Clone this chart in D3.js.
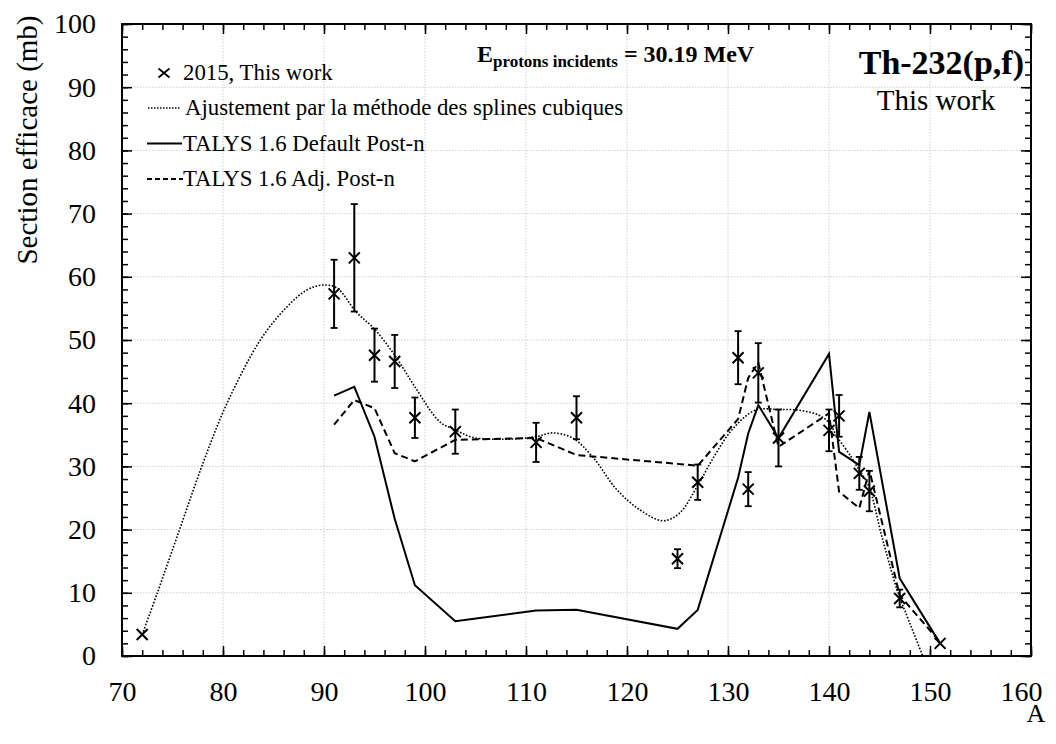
<!DOCTYPE html>
<html>
<head>
<meta charset="utf-8">
<script src="https://cdn.jsdelivr.net/npm/d3@7"></script>
<style>
  body { margin: 0; background: #fff; }
  svg { display: block; }
  text { font-family: "Liberation Serif", "Times New Roman", serif; fill: #000; }
</style>
</head>
<body>
<svg id="chart" width="1056" height="744"></svg>
<script>
// Measured fission-product cross sections, Th-232(p,f) at 30.19 MeV
const expMass  = [72, 91, 93, 95, 97, 99, 103, 111, 115, 125, 127, 131, 132, 133, 135, 140, 141, 143, 144, 147, 151];
const expSigma = [3.4, 57.3, 63.0, 47.6, 46.6, 37.7, 35.5, 33.8, 37.7, 15.4, 27.5, 47.2, 26.4, 44.8, 34.5, 35.7, 38.0, 28.9, 26.1, 9.1, 2.0];
const expError = [0, 5.4, 8.5, 4.2, 4.2, 3.2, 3.5, 3.1, 3.4, 1.5, 2.8, 4.2, 2.7, 4.7, 4.5, 3.3, 3.3, 2.6, 3.2, 1.4, 0];

// TALYS 1.6 calculations (post-neutron emission)
const talysMass    = [91, 93, 95, 97, 99, 103, 111, 115, 125, 127, 131, 132, 133, 135, 140, 141, 143, 144, 147, 151];
const talysDefault = [41.2, 42.6, 34.7, 21.7, 11.2, 5.5, 7.2, 7.3, 4.3, 7.3, 28.2, 35.2, 39.7, 34.5, 47.8, 32.3, 30.2, 38.6, 12.3, 2.0];
const talysAdj     = [36.6, 40.5, 39.2, 32.1, 30.8, 34.2, 34.5, 31.8, 30.4, 30.1, 37.5, 44.0, 46.4, 33.1, 38.4, 26.0, 23.4, 29.4, 9.6, 2.2];

// Cubic spline fit of the measured yields
const splineMass  = [72, 73.5, 75.7, 77.9, 80.4, 83.7, 86.3, 88.3, 89.9, 91.3, 93.2, 94.9, 97, 99, 101.5, 103, 104.7, 108, 111, 112.6, 114.6, 116.6, 119, 121.3, 123.6, 125.2, 126.9, 128.6, 130.4, 132.7, 135, 137, 139, 140, 140.8, 142.2, 142.8, 143.9, 145.3, 146.8, 148, 149.2, 149.7];
const splineSigma = [3.4, 10, 20, 30, 40, 50, 55.2, 57.9, 58.7, 58.2, 54.4, 51.9, 47.6, 42.6, 37.0, 35.8, 34.6, 34.3, 34.7, 35.3, 34.5, 31.5, 26.3, 23.1, 21.4, 22.6, 26.7, 31.5, 35.8, 38.9, 39.0, 38.9, 38.1, 36.9, 34.7, 31.5, 29.9, 27.0, 18.5, 10.2, 5.2, 0.3, -1.8];

const xTicks = [70, 80, 90, 100, 110, 120, 130, 140, 150, 160];
const yTicks = [0, 10, 20, 30, 40, 50, 60, 70, 80, 90, 100];

const legendLabels = [
  "2015, This work",
  "Ajustement par la méthode des splines cubiques",
  "TALYS 1.6 Default Post-n",
  "TALYS 1.6 Adj. Post-n"
];

const svg = d3.select("#chart");
const pL = 122, pR = 1031, pT = 24, pB = 656;

const x = d3.scaleLinear().domain([70, 160]).range([pL, pR]);
const y = d3.scaleLinear().domain([0, 100]).range([pB, pT]);

const minorX = d3.range(70, 160.1, 2);
const minorY = d3.range(0, 100.1, 2);

// grid
const grid = svg.append("g").attr("stroke", "#cfcfcf").attr("stroke-width", 1).attr("stroke-dasharray", "1.5,1.5");
grid.selectAll("line.gx").data(xTicks.slice(1, -1)).join("line")
  .attr("x1", d => x(d)).attr("x2", d => x(d)).attr("y1", pT).attr("y2", pB);
grid.selectAll("line.gy").data(yTicks.slice(1, -1)).join("line")
  .attr("y1", d => y(d)).attr("y2", d => y(d)).attr("x1", pL).attr("x2", pR);

// axes: inward ticks on all four sides
function styleAxis(g) {
  g.attr("font-family", null);
  g.selectAll(".tick line").attr("stroke", "#000").attr("stroke-width", 1.5);
  g.selectAll(".domain").remove();
  g.selectAll("text").style("font-family", "'Liberation Serif', serif").attr("fill", "#000");
}

svg.append("g").attr("transform", `translate(0,${pB})`)
  .call(d3.axisBottom(x).tickValues(minorX).tickSize(-6).tickFormat(""))
  .call(styleAxis);
const xLab = svg.append("g").attr("transform", `translate(0,${pB})`)
  .call(d3.axisBottom(x).tickValues(xTicks).tickSize(-10).tickPadding(25).tickFormat(d3.format("d")))
  .call(styleAxis);
xLab.selectAll("text").style("font-size", "28px")
  .attr("dx", d => d === 160 ? -10 : 0);

svg.append("g").attr("transform", `translate(0,${pT})`)
  .call(d3.axisTop(x).tickValues(minorX).tickSize(-6).tickFormat(""))
  .call(styleAxis);
svg.append("g").attr("transform", `translate(0,${pT})`)
  .call(d3.axisTop(x).tickValues(xTicks).tickSize(-10).tickFormat(""))
  .call(styleAxis);

svg.append("g").attr("transform", `translate(${pL},0)`)
  .call(d3.axisLeft(y).tickValues(minorY).tickSize(-6).tickFormat(""))
  .call(styleAxis);
svg.append("g").attr("transform", `translate(${pL},0)`)
  .call(d3.axisLeft(y).tickValues(yTicks).tickSize(-10).tickPadding(26).tickFormat(d3.format("d")))
  .call(styleAxis)
  .selectAll("text").style("font-size", "28px");

svg.append("g").attr("transform", `translate(${pR},0)`)
  .call(d3.axisRight(y).tickValues(minorY).tickSize(-6).tickFormat(""))
  .call(styleAxis);
svg.append("g").attr("transform", `translate(${pR},0)`)
  .call(d3.axisRight(y).tickValues(yTicks).tickSize(-10).tickFormat(""))
  .call(styleAxis);

// frame
svg.append("rect").attr("x", pL).attr("y", pT).attr("width", pR - pL).attr("height", pB - pT)
  .attr("fill", "none").attr("stroke", "#000").attr("stroke-width", 2);

// axis titles
svg.append("text").attr("transform", "translate(37,140) rotate(-90)")
  .attr("text-anchor", "middle").style("font-size", "29px").text("Section efficace (mb)");
svg.append("text").attr("x", 1036).attr("y", 722).attr("text-anchor", "middle")
  .style("font-size", "26px").text("A");

// clip for the curves
svg.append("clipPath").attr("id", "plotClip").append("rect")
  .attr("x", pL).attr("y", pT).attr("width", pR - pL).attr("height", pB - pT);

const plot = svg.append("g").attr("clip-path", "url(#plotClip)");

const splineLine = d3.line().x(d => x(d[0])).y(d => y(d[1])).curve(d3.curveCatmullRom.alpha(0.5));
plot.append("path")
  .datum(splineMass.map((m, i) => [m, splineSigma[i]]))
  .attr("d", splineLine)
  .attr("fill", "none").attr("stroke", "#000").attr("stroke-width", 1.6).attr("stroke-dasharray", "1.6,1.7");

const polyLine = d3.line().x(d => x(d[0])).y(d => y(d[1]));
plot.append("path")
  .datum(talysMass.map((m, i) => [m, talysDefault[i]]))
  .attr("d", polyLine)
  .attr("fill", "none").attr("stroke", "#000").attr("stroke-width", 2).attr("stroke-linejoin", "miter");
plot.append("path")
  .datum(talysMass.map((m, i) => [m, talysAdj[i]]))
  .attr("d", polyLine)
  .attr("fill", "none").attr("stroke", "#000").attr("stroke-width", 2).attr("stroke-dasharray", "7,4");

// measured points with error bars
const pts = expMass.map((m, i) => ({ m, v: expSigma[i], e: expError[i] }));
const pg = svg.append("g").attr("stroke", "#000").attr("fill", "none");
const withErr = pts.filter(d => d.e > 0);
pg.selectAll("line.bar").data(withErr).join("line")
  .attr("x1", d => x(d.m)).attr("x2", d => x(d.m))
  .attr("y1", d => y(d.v + d.e)).attr("y2", d => y(d.v - d.e))
  .attr("stroke-width", 2);
pg.selectAll("line.capTop").data(withErr).join("line")
  .attr("x1", d => x(d.m) - 3.5).attr("x2", d => x(d.m) + 3.5)
  .attr("y1", d => y(d.v + d.e)).attr("y2", d => y(d.v + d.e))
  .attr("stroke-width", 1.8);
pg.selectAll("line.capBot").data(withErr).join("line")
  .attr("x1", d => x(d.m) - 3.5).attr("x2", d => x(d.m) + 3.5)
  .attr("y1", d => y(d.v - d.e)).attr("y2", d => y(d.v - d.e))
  .attr("stroke-width", 1.8);

const cross = (w, h) => `M${-w},${-h}L${w},${h}M${-w},${h}L${w},${-h}`;
pg.selectAll("path.mark").data(pts).join("path")
  .attr("transform", d => `translate(${x(d.m)},${y(d.v)})`)
  .attr("d", cross(5.5, 5.5)).attr("stroke-width", 2);

// legend
const lg = svg.append("g");
const rowY = [73, 108, 143.5, 179];
lg.append("path").attr("transform", `translate(164,${rowY[0]})`).attr("d", cross(5.5, 4.5))
  .attr("stroke", "#000").attr("stroke-width", 1.7).attr("fill", "none");
lg.append("line").attr("x1", 148).attr("x2", 181).attr("y1", rowY[1]).attr("y2", rowY[1])
  .attr("stroke", "#000").attr("stroke-width", 1.5).attr("stroke-dasharray", "1.5,1.5");
lg.append("line").attr("x1", 147).attr("x2", 182).attr("y1", rowY[2]).attr("y2", rowY[2])
  .attr("stroke", "#000").attr("stroke-width", 2);
lg.append("line").attr("x1", 147).attr("x2", 183).attr("y1", rowY[3]).attr("y2", rowY[3])
  .attr("stroke", "#000").attr("stroke-width", 2).attr("stroke-dasharray", "5,3");
lg.selectAll("text").data(legendLabels).join("text")
  .attr("x", (d, i) => i === 1 ? 185 : 183)
  .attr("y", (d, i) => rowY[i] + 7)
  .style("font-size", "22.8px")
  .text(d => d);

// annotations
const ann = svg.append("text").attr("x", 477).attr("y", 62).style("font-weight", "bold").style("font-size", "24px");
ann.append("tspan").text("E");
ann.append("tspan").attr("dy", 5).style("font-size", "17px").text("protons incidents");
ann.append("tspan").attr("dy", -5).text(" = 30.19 MeV");

svg.append("text").attr("x", 1024).attr("y", 74).attr("text-anchor", "end")
  .style("font-weight", "bold").style("font-size", "34px").text("Th-232(p,f)");
svg.append("text").attr("x", 936).attr("y", 110).attr("text-anchor", "middle")
  .style("font-size", "29px").text("This work");
</script>
</body>
</html>
